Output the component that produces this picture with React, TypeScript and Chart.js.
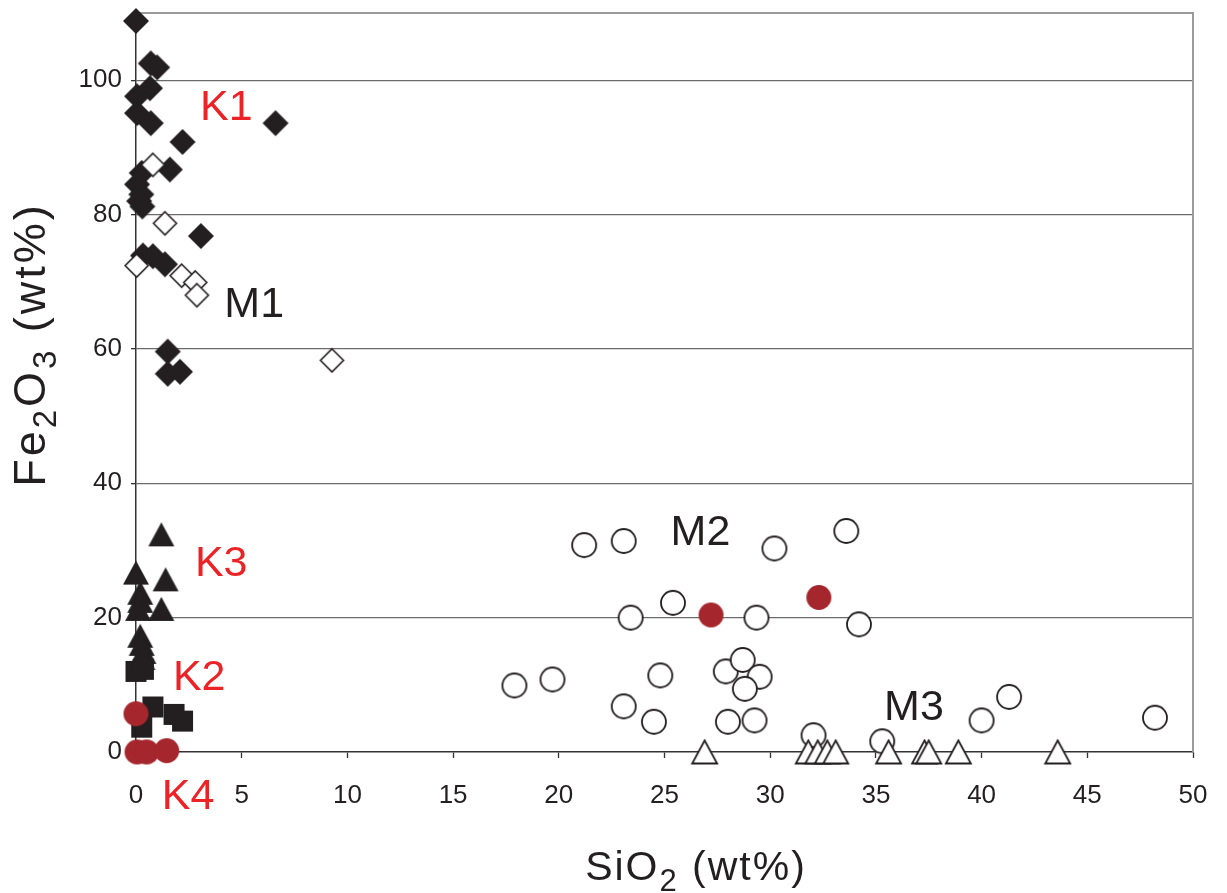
import React, { useEffect, useRef } from "react";
import { Chart, registerables } from "chart.js";

Chart.register(...registerables);

// ---- data (SiO2 wt% vs Fe2O3 wt%) ----
const k1Si = [0.0, 0.7, 1.0, 0.66, 0.05, 0.05, 0.7, 6.6, 2.2, 1.6, 0.27, 0.05, 0.25, 0.15, 0.3, 3.07, 0.33, 0.8, 1.37, 1.5, 1.5, 2.08];
const k1Fe = [108.8, 102.5, 101.9, 98.8, 97.6, 95.1, 93.6, 93.6, 90.8, 86.7, 86.2, 84.5, 83.0, 82.0, 81.2, 76.8, 73.9, 73.8, 72.6, 59.6, 56.3, 56.6];

const m1Si = [0.8, 1.37, 0.03, 2.16, 2.8, 2.88, 9.27];
const m1Fe = [87.4, 78.7, 72.4, 70.9, 69.9, 68.0, 58.3];

const k3Si = [1.2, 0.0, 1.4, 0.2, 0.2, 1.2, 0.1, 0.2, 0.27, 0.35, 0.3];
const k3Fe = [32.4, 26.7, 25.7, 23.7, 22.5, 21.3, 21.3, 17.3, 16.1, 14.9, 14.0];

const k2Si = [0.0, 0.35, 0.8, 1.8, 2.2, 0.27];
const k2Fe = [12.0, 12.3, 6.7, 5.6, 4.6, 3.7];

const k4Si = [0.0, 0.05, 0.5, 1.45];
const k4Fe = [5.7, 0.0, 0.0, 0.2];

const m2RedSi = [27.2, 32.3];
const m2RedFe = [20.4, 23.0];

const m2Si = [21.2, 23.07, 30.2, 33.6, 25.4, 23.4, 29.35, 34.2, 17.9, 19.7, 24.8, 27.9, 28.7, 29.5, 28.8, 23.07, 24.5, 28.0, 29.26, 32.05, 35.3, 40.0, 41.3, 48.2];
const m2Fe = [30.8, 31.4, 30.3, 32.9, 22.2, 20.0, 20.0, 19.0, 9.9, 10.8, 11.4, 12.0, 13.7, 11.2, 9.4, 6.8, 4.5, 4.5, 4.7, 2.5, 1.6, 4.7, 8.2, 5.1];

const m3Si = [26.9, 31.8, 32.25, 32.7, 33.1, 35.6, 37.3, 37.5, 38.9, 43.6];
const m3Fe = [0, 0, 0, 0, 0, 0, 0, 0, 0, 0];

const xTicks = [0, 5, 10, 15, 20, 25, 30, 35, 40, 45, 50];
const yTicks = [0, 20, 40, 60, 80, 100];

// group labels placed in data coordinates
const groupNames = ["K1", "M1", "K3", "K2", "K4", "M2", "M3"];
const groupX = [4.27, 5.59, 4.03, 2.99, 2.46, 26.7, 36.8];
const groupY = [95.9, 66.5, 28.0, 11.0, -6.7, 32.6, 6.5];
const groupRed = [true, false, true, true, true, false, false];

const INK = "#231f20";
const RED_TEXT = "#ec2227";
const RED_MARK = "#a6262d";
const FONT = '"Liberation Sans", Arial, sans-serif';

const pts = (xs: number[], ys: number[]) => xs.map((x, i) => ({ x, y: ys[i] }));

type Shape = "diamond" | "triangle" | "square" | "circle";

function makeMarker(shape: Shape, w: number, h: number, fill: string, stroke: string | null, lw: number) {
  const pad = 2;
  const c = document.createElement("canvas");
  c.width = Math.ceil(w + pad * 2);
  c.height = Math.ceil(h + pad * 2);
  const ctx = c.getContext("2d")!;
  const cx = c.width / 2;
  const cy = c.height / 2;
  ctx.beginPath();
  if (shape === "diamond") {
    ctx.moveTo(cx, cy - h / 2);
    ctx.lineTo(cx + w / 2, cy);
    ctx.lineTo(cx, cy + h / 2);
    ctx.lineTo(cx - w / 2, cy);
    ctx.closePath();
  } else if (shape === "triangle") {
    ctx.moveTo(cx, cy - h / 2);
    ctx.lineTo(cx + w / 2, cy + h / 2);
    ctx.lineTo(cx - w / 2, cy + h / 2);
    ctx.closePath();
  } else if (shape === "square") {
    ctx.rect(cx - w / 2, cy - h / 2, w, h);
  } else {
    ctx.arc(cx, cy, w / 2, 0, Math.PI * 2);
  }
  ctx.fillStyle = fill;
  ctx.fill();
  if (stroke) {
    ctx.lineJoin = "miter";
    ctx.lineWidth = lw;
    ctx.strokeStyle = stroke;
    ctx.stroke();
  }
  return c;
}

// draws a run of text (some pieces subscripted) centred on the origin, with extra letter spacing
function drawRich(ctx: CanvasRenderingContext2D, parts: [string, boolean][], size: number, subSize: number, subShift: number, spacing: number) {
  const glyphs: { ch: string; sub: boolean; w: number }[] = [];
  parts.forEach(([t, sub]) => {
    ctx.font = `${sub ? subSize : size}px ${FONT}`;
    for (const ch of t) glyphs.push({ ch, sub, w: ctx.measureText(ch).width + spacing });
  });
  const total = glyphs.reduce((a, g) => a + g.w, 0) - spacing;
  let x = -total / 2;
  glyphs.forEach((g) => {
    ctx.font = `${g.sub ? subSize : size}px ${FONT}`;
    ctx.fillText(g.ch, x, g.sub ? subShift : 0);
    x += g.w;
  });
}

const frameAndLabels = {
  id: "frameAndLabels",
  beforeDatasetsDraw(chart: any) {
    const { ctx, chartArea } = chart;
    ctx.save();
    ctx.strokeStyle = "#9a9a9a";
    ctx.lineWidth = 2;
    ctx.beginPath();
    ctx.moveTo(chartArea.left, chartArea.top);
    ctx.lineTo(chartArea.right, chartArea.top);
    ctx.lineTo(chartArea.right, chartArea.bottom);
    ctx.stroke();
    ctx.restore();
  },
  afterDraw(chart: any) {
    const { ctx } = chart;
    const xs = chart.scales.x;
    const ys = chart.scales.y;
    ctx.save();
    ctx.textAlign = "center";
    ctx.textBaseline = "middle";
    ctx.font = `43px ${FONT}`;
    groupNames.forEach((name, i) => {
      ctx.fillStyle = groupRed[i] ? RED_TEXT : INK;
      ctx.fillText(name, xs.getPixelForValue(groupX[i]), ys.getPixelForValue(groupY[i]));
    });

    // axis titles
    ctx.fillStyle = INK;
    ctx.textAlign = "left";
    ctx.textBaseline = "alphabetic";
    ctx.save();
    ctx.translate(695, 880);
    drawRich(ctx, [["SiO", false], ["2", true], [" (wt%)", false]], 41, 31, 11, 2);
    ctx.restore();

    ctx.save();
    ctx.translate(45, 346);
    ctx.rotate(-Math.PI / 2);
    drawRich(ctx, [["Fe", false], ["2", true], ["O", false], ["3", true], [" (wt%)", false]], 45, 33, 11, 3);
    ctx.restore();
    ctx.restore();
  },
};

export default function App() {
  const ref = useRef<HTMLCanvasElement | null>(null);

  useEffect(() => {
    if (!ref.current) return;
    const filledDiamond = makeMarker("diamond", 26, 26, INK, null, 0);
    const openDiamond = makeMarker("diamond", 23, 23, "#ffffff", INK, 1.6);
    const filledTriangle = makeMarker("triangle", 26, 24, INK, null, 0);
    const openTriangle = makeMarker("triangle", 25, 23, "#ffffff", INK, 1.8);
    const filledSquare = makeMarker("square", 21, 21, INK, null, 0);
    const redCircle = makeMarker("circle", 25, 25, RED_MARK, null, 0);
    const openCircle = makeMarker("circle", 24, 24, "#ffffff", INK, 1.8);

    const ds = (label: string, data: any[], style: HTMLCanvasElement) => ({
      label,
      data,
      pointStyle: style,
      pointRadius: 12,
      pointHoverRadius: 12,
      showLine: false,
      clip: false as any,
    });

    const chart = new Chart(ref.current, {
      type: "scatter",
      data: {
        datasets: [
          ds("M3", pts(m3Si, m3Fe), openTriangle),
          ds("K4", pts(k4Si, k4Fe), redCircle),
          ds("M2 red", pts(m2RedSi, m2RedFe), redCircle),
          ds("M1", pts(m1Si, m1Fe), openDiamond),
          ds("M2", pts(m2Si, m2Fe), openCircle),
          ds("K3", pts(k3Si, k3Fe), filledTriangle),
          ds("K2", pts(k2Si, k2Fe), filledSquare),
          ds("K1", pts(k1Si, k1Fe), filledDiamond),
        ],
      },
      options: {
        animation: false,
        responsive: false,
        devicePixelRatio: 1,
        layout: { padding: { left: 0, right: 34, top: 9, bottom: 0 } },
        plugins: {
          legend: { display: false },
          tooltip: { enabled: false },
          title: { display: false },
        },
        events: [],
        scales: {
          x: {
            type: "linear",
            min: 0,
            max: 50,
            afterBuildTicks: (s: any) => {
              s.ticks = xTicks.map((v) => ({ value: v }));
            },
            afterFit: (s: any) => {
              s.height = 141;
              s.paddingLeft = 0;
              s.paddingRight = 0;
            },
            grid: {
              drawOnChartArea: false,
              drawTicks: true,
              tickLength: 6,
              tickColor: "#333333",
              tickWidth: 1.3,
            },
            border: { display: true, color: "#333333", width: 1.5 },
            ticks: {
              color: INK,
              font: { family: FONT, size: 26 },
              padding: 22,
              maxRotation: 0,
              autoSkip: false,
            },
          },
          y: {
            type: "linear",
            min: 0,
            max: 110,
            afterBuildTicks: (s: any) => {
              s.ticks = yTicks.map((v) => ({ value: v }));
            },
            afterFit: (s: any) => {
              s.width = 136;
              s.paddingTop = 0;
              s.paddingBottom = 0;
            },
            grid: {
              color: (c: any) => (c.tick && c.tick.value === 0 ? "rgba(0,0,0,0)" : "#6b6b6b"),
              lineWidth: 1.3,
              drawTicks: true,
              tickLength: 5,
              tickColor: "#333333",
              tickWidth: 1.3,
            },
            border: { display: true, color: "#333333", width: 1.5 },
            ticks: {
              color: INK,
              font: { family: FONT, size: 26 },
              padding: 9,
              autoSkip: false,
            },
          },
        },
      },
      plugins: [frameAndLabels],
    });
    return () => chart.destroy();
  }, []);

  return (
    <div style={{ position: "absolute", left: 0, top: 0, width: 1227, height: 893, background: "#ffffff" }}>
      <canvas ref={ref} width={1227} height={893} style={{ display: "block", width: 1227, height: 893 }} />
    </div>
  );
}
